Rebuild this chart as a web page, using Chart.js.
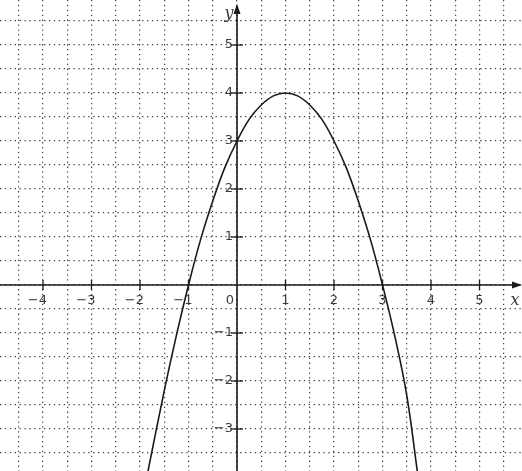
<!DOCTYPE html>
<html>
<head>
<meta charset="utf-8">
<script src="https://cdn.jsdelivr.net/npm/chart.js@4.4.1/dist/chart.umd.min.js"></script>
<style>
html,body{margin:0;padding:0;background:#fff;}
canvas{display:block;}
</style>
</head>
<body>
<canvas id="c" width="522" height="471"></canvas>
<script>
// Curve points (x, y)
const curveX = [-1.84, -1.5, -1.25, -1.0, -0.75, -0.5, -0.25, 0, 0.25, 0.5, 0.75, 1, 1.25, 1.5, 1.75, 2, 2.25, 2.5, 2.75, 3, 3.25, 3.5, 3.72];
const curveY = [-3.9, -2.2, -1.05, 0, 0.95, 1.75, 2.45, 3, 3.45, 3.75, 3.94, 4, 3.94, 3.75, 3.45, 3, 2.45, 1.75, 0.95, 0, -1.05, -2.3, -3.9];

// Tick labels
const xTickValues = [-4, -3, -2, -1, 1, 2, 3, 4, 5];
const xTickLabels = ['−4', '−3', '−2', '−1', '1', '2', '3', '4', '5'];
const yTickValues = [5, 4, 3, 2, 1, -1, -2, -3];
const yTickLabels = ['5', '4', '3', '2', '1', '−1', '−2', '−3'];
const originLabel = '0';
const xAxisName = 'x';
const yAxisName = 'y';

const axesPlugin = {
  id: 'axesPlugin',
  beforeDatasetsDraw(chart) {
    const ctx = chart.ctx;
    const xs = chart.scales.x, ys = chart.scales.y;
    const area = chart.chartArea;
    const x0 = xs.getPixelForValue(0);
    const y0 = ys.getPixelForValue(0);
    ctx.save();
    ctx.strokeStyle = '#1a1a1a';
    ctx.fillStyle = '#1a1a1a';
    ctx.lineWidth = 1.6;
    // x axis
    ctx.beginPath();
    ctx.moveTo(area.left, y0);
    ctx.lineTo(area.right - 2, y0);
    ctx.stroke();
    ctx.beginPath();
    ctx.moveTo(area.right, y0);
    ctx.lineTo(area.right - 10, y0 - 3.5);
    ctx.lineTo(area.right - 10, y0 + 3.5);
    ctx.closePath();
    ctx.fill();
    // y axis
    const yTop = area.top + 4;
    ctx.beginPath();
    ctx.moveTo(x0, area.bottom);
    ctx.lineTo(x0, yTop + 2);
    ctx.stroke();
    ctx.beginPath();
    ctx.moveTo(x0, yTop);
    ctx.lineTo(x0 - 3.5, yTop + 10);
    ctx.lineTo(x0 + 3.5, yTop + 10);
    ctx.closePath();
    ctx.fill();
    // tick marks
    ctx.lineWidth = 1.3;
    xTickValues.forEach(v => {
      const px = xs.getPixelForValue(v);
      ctx.beginPath();
      ctx.moveTo(px, y0 - 5);
      ctx.lineTo(px, y0 + 5);
      ctx.stroke();
    });
    yTickValues.forEach(v => {
      const py = ys.getPixelForValue(v);
      ctx.beginPath();
      ctx.moveTo(x0 - 6, py);
      ctx.lineTo(x0 + 6, py);
      ctx.stroke();
    });
    // labels
    ctx.fillStyle = '#3a3a3a';
    ctx.font = '13px "DejaVu Sans", sans-serif';
    ctx.textBaseline = 'middle';
    ctx.textAlign = 'right';
    xTickValues.forEach((v, i) => {
      const px = xs.getPixelForValue(v);
      ctx.fillText(xTickLabels[i], px + 4, y0 + 16);
    });
    yTickValues.forEach((v, i) => {
      const py = ys.getPixelForValue(v);
      ctx.fillText(yTickLabels[i], x0 - 4, py);
    });
    ctx.fillText(originLabel, x0 - 3, y0 + 16);
    ctx.font = 'italic 16px "DejaVu Serif", serif';
    ctx.textAlign = 'center';
    ctx.fillText(xAxisName, area.right - 7, y0 + 16);
    ctx.fillText(yAxisName, x0 - 8, area.top + 14);
    ctx.restore();
  }
};

const gridStyle = {
  color: 'rgba(40,40,60,0.9)',
  lineWidth: 1.2,
  drawTicks: false
};
const borderStyle = { display: false, dash: [1.3, 3.6] };

new Chart(document.getElementById('c'), {
  type: 'line',
  data: {
    datasets: [{
      data: curveX.map((x, i) => ({ x: x, y: curveY[i] })),
      borderColor: '#1a1a1a',
      borderWidth: 1.6,
      pointRadius: 0,
      fill: false,
      tension: 0.4
    }]
  },
  options: {
    responsive: false,
    animation: false,
    layout: { padding: 0 },
    plugins: { legend: { display: false }, tooltip: { enabled: false } },
    scales: {
      x: {
        type: 'linear',
        min: -4.887, max: 5.876,
        border: borderStyle,
        grid: gridStyle,
        ticks: { display: false, stepSize: 0.5, includeBounds: false }
      },
      y: {
        type: 'linear',
        min: -3.875, max: 5.9375,
        border: borderStyle,
        grid: gridStyle,
        ticks: { display: false, stepSize: 0.5, includeBounds: false }
      }
    }
  },
  plugins: [axesPlugin]
});
</script>
</body>
</html>
